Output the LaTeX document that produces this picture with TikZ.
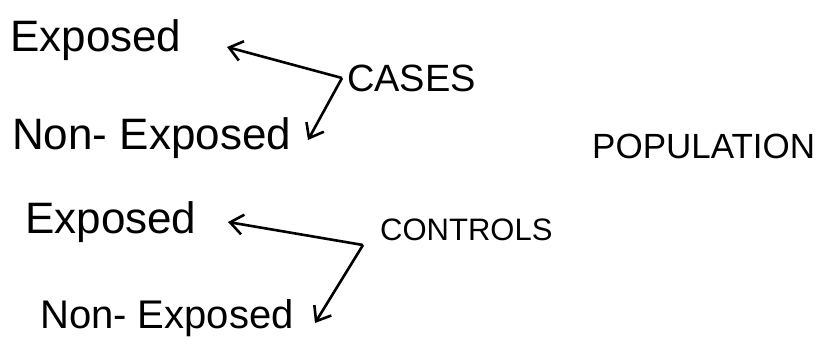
\documentclass[tikz,border=0pt]{standalone}
\usepackage{fontspec}
\setmainfont{Liberation Sans}
\usetikzlibrary{arrows.meta}

\begin{document}
\begin{tikzpicture}[x=1pt, y={(0,-1pt)},
    word/.style={anchor=west, inner sep=0pt, font=\fontsize{44}{48}\selectfont},
    tag/.style={anchor=west, inner sep=0pt, font=\fontsize{38}{42}\selectfont},
    arr/.style={-{Straight Barb[length=4.5mm, width=7mm]}, line width=2.6pt, line join=round}
]
\useasboundingbox (0,0) rectangle (820,359);

% --- Cases ---
\node[word] (exp1) at (10,40) {Exposed};
\node[word] (non1) at (12,138) {Non- Exposed};
\node[tag] (cases) at (347,78) {CASES};

% --- Controls ---
\node[word] (exp2) at (25,222) {Exposed};
\node[word, font=\fontsize{40}{44}\selectfont] (non2) at (40,318) {Non- Exposed};
\node[tag, font=\fontsize{31}{36}\selectfont] (ctrl) at (380,230) {CONTROLS};

% --- Population ---
\node[tag, font=\fontsize{35}{40}\selectfont] (pop) at (592,146) {POPULATION};

% --- Arrows ---
\coordinate (ctip1) at (227,47);
\coordinate (ctip2) at (308,140);
\coordinate (ktip1) at (228,222);
\coordinate (ktip2) at (315,323);
\draw[arr] ([xshift=-5]cases.west) -- (ctip1);
\draw[arr] ([xshift=-5]cases.west) -- (ctip2);
\draw[arr] ([shift={(-17,15)}]ctrl.west) -- (ktip1);
\draw[arr] ([shift={(-17,15)}]ctrl.west) -- (ktip2);
\end{tikzpicture}
\end{document}
